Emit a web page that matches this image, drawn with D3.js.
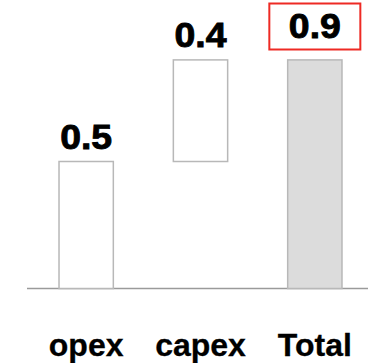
<!DOCTYPE html>
<html>
<head>
<meta charset="utf-8">
<script src="https://cdn.jsdelivr.net/npm/d3@7"></script>
<style>
  html, body { margin: 0; padding: 0; background: #fff; }
  svg { display: block; }
  text { font-family: "Liberation Sans", Arial, sans-serif; font-weight: bold; fill: #000; }
</style>
</head>
<body>
<svg id="chart" width="369" height="363"></svg>
<script>
// Waterfall: two components stacked into a total
const categories = ["opex", "capex", "Total"];
const values = [0.5, 0.4, 0.9];
const isTotal = [false, false, true];
const valueLabels = ["0.5", "0.4", "0.9"];

const svg = d3.select("#chart");

const x = d3.scaleBand()
  .domain(categories)
  .range([29, 372])
  .paddingInner(0.525)
  .paddingOuter(0.2625);

const y = d3.scaleLinear().domain([0, 1]).range([288.5, 34.5]);

// running start/end of each step
let run = 0;
const steps = categories.map((c, i) => {
  let start, end;
  if (isTotal[i]) { start = 0; end = values[i]; run = end; }
  else { start = run; end = run + values[i]; run = end; }
  return { cat: c, start, end, total: isTotal[i], label: valueLabels[i] };
});

// baseline
svg.append("line")
  .attr("x1", 27).attr("x2", 368)
  .attr("y1", y(0)).attr("y2", y(0))
  .attr("stroke", "#9a9a9a").attr("stroke-width", 1.5);

// bars
svg.selectAll("rect.bar").data(steps).enter().append("rect")
  .attr("class", "bar")
  .attr("x", d => x(d.cat))
  .attr("width", x.bandwidth())
  .attr("y", d => y(d.end))
  .attr("height", d => y(d.start) - y(d.end))
  .attr("fill", d => d.total ? "#dcdcdc" : "#ffffff")
  .attr("stroke", "#b8b8b8")
  .attr("stroke-width", 1.5);

// value labels (heavy weight)
svg.selectAll("text.val").data(steps).enter().append("text")
  .attr("class", "val")
  .attr("x", d => x(d.cat) + x.bandwidth() / 2)
  .attr("y", d => d.total ? y(d.end) - 21.5 : y(d.end) - 12.5)
  .attr("text-anchor", "middle")
  .attr("font-size", 35)
  .attr("textLength", 52)
  .attr("lengthAdjust", "spacingAndGlyphs")
  .attr("stroke", "#000")
  .attr("stroke-width", 0.9)
  .text(d => d.label);

// highlight box around the total value
const tot = steps.find(d => d.total);
const cx = x(tot.cat) + x.bandwidth() / 2;
svg.append("rect")
  .attr("x", cx - 45.5)
  .attr("y", 3.5)
  .attr("width", 91)
  .attr("height", 46)
  .attr("fill", "none")
  .attr("stroke", "#ee2a24")
  .attr("stroke-width", 2);

// category labels
svg.selectAll("text.cat").data(categories).enter().append("text")
  .attr("class", "cat")
  .attr("x", d => x(d) + x.bandwidth() / 2)
  .attr("y", 356)
  .attr("text-anchor", "middle")
  .attr("font-size", 32)
  .attr("stroke", "#000")
  .attr("stroke-width", 0.3)
  .text(d => d);
</script>
</body>
</html>
